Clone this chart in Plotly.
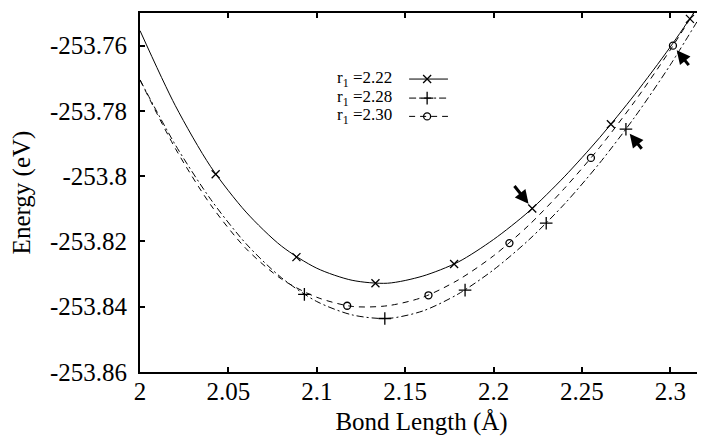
import plotly.graph_objects as go

# ---------------- data ----------------
bond_grid = [2.00, 2.02, 2.04, 2.06, 2.08, 2.10, 2.12, 2.14, 2.16, 2.18,
             2.20, 2.22, 2.24, 2.26, 2.28, 2.30, 2.32]
curve_222 = [-253.7554, -253.7784, -253.7971, -253.8110, -253.8214, -253.8282,
             -253.8319, -253.8328, -253.8306, -253.8263, -253.8194, -253.8108,
             -253.8002, -253.7882, -253.7749, -253.7604, -253.7446]
curve_228 = [-253.7705, -253.7904, -253.8071, -253.8207, -253.8311, -253.8384,
             -253.8425, -253.8436, -253.8413, -253.8361, -253.8287, -253.8195,
             -253.8086, -253.7960, -253.7818, -253.7659, -253.7483]
curve_230 = [-253.7705, -253.7915, -253.8088, -253.8222, -253.8315, -253.8371,
             -253.8399, -253.8397, -253.8371, -253.8318, -253.8244, -253.8150,
             -253.8038, -253.7912, -253.7770, -253.7613, -253.7441]

pts_222_x = [2.0428, 2.0885, 2.1332, 2.1777, 2.2219, 2.2664, 2.3111]
pts_222_y = [-253.7994, -253.8248, -253.8328, -253.8269, -253.8099, -253.7841, -253.7518]
pts_228_x = [2.093, 2.1385, 2.1839, 2.2298, 2.2749]
pts_228_y = [-253.8362, -253.8436, -253.8349, -253.8144, -253.7856]
pts_230_x = [2.1172, 2.1632, 2.2090, 2.2551, 2.3015]
pts_230_y = [-253.8397, -253.8365, -253.8205, -253.7944, -253.7600]

# points marked by arrows (index into each point series)
arrow_222 = 4
arrow_228 = 4
arrow_230 = 4

series_labels = ["r<sub>1</sub> =2.22", "r<sub>1</sub> =2.28", "r<sub>1</sub> =2.30"]

x_tickvals = [2.0, 2.05, 2.1, 2.15, 2.2, 2.25, 2.3]
x_ticktext = ["2", "2.05", "2.1", "2.15", "2.2", "2.25", "2.3"]
y_tickvals = [-253.86, -253.84, -253.82, -253.80, -253.78, -253.76]
y_ticktext = ["-253.86", "-253.84", "-253.82", "-253.8", "-253.78", "-253.76"]

# ---------------- figure ----------------
FONT = "Liberation Serif, Times New Roman, serif"
BLACK = "#000000"
styles = [
    dict(dash="solid", symbol="x-thin-open", size=8),
    dict(dash="7px,3px,2px,3px", symbol="cross-thin-open", size=9),
    dict(dash="6px,5px", symbol="circle-open", size=7),
]
curves = [curve_222, curve_228, curve_230]
pts = [(pts_222_x, pts_222_y), (pts_228_x, pts_228_y), (pts_230_x, pts_230_y)]

fig = go.Figure()
for c, (px, py), st in zip(curves, pts, styles):
    fig.add_trace(go.Scatter(
        x=bond_grid, y=c, mode="lines", line=dict(color=BLACK, width=1, dash=st["dash"],
                                                  shape="spline", smoothing=0.8),
        showlegend=False, hoverinfo="skip"))
    fig.add_trace(go.Scatter(
        x=px, y=py, mode="markers",
        marker=dict(symbol=st["symbol"], size=st["size"], color=BLACK,
                    line=dict(color=BLACK, width=1.3)),
        showlegend=False, cliponaxis=False))

# legend key samples drawn on a hidden overlay axis (0..1 of plot area)
key_rows = [0.816, 0.763, 0.712]
key_x0, key_x1, key_xm = 0.478, 0.547, 0.510
for row, st, lab in zip(key_rows, styles, series_labels):
    fig.add_trace(go.Scatter(
        x=[key_x0, key_x1], y=[row, row], mode="lines",
        line=dict(color=BLACK, width=1, dash=st["dash"]),
        xaxis="x2", yaxis="y2", showlegend=False, hoverinfo="skip"))
    fig.add_trace(go.Scatter(
        x=[key_xm], y=[row], mode="markers",
        marker=dict(symbol=st["symbol"], size=st["size"], color=BLACK,
                    line=dict(color=BLACK, width=1.3)),
        xaxis="x2", yaxis="y2", showlegend=False, hoverinfo="skip"))
    fig.add_annotation(xref="paper", yref="paper", x=0.451, y=row,
                       xanchor="right", yanchor="middle", text=lab,
                       showarrow=False, font=dict(family=FONT, size=17, color=BLACK))

# arrows
for (px, py), idx, (axo, ayo) in zip(pts, [arrow_222, arrow_228, arrow_230],
                                     [(-19, -24), (17, 21), (17, 21)]):
    fig.add_annotation(x=px[idx], y=py[idx], xref="x", yref="y", text="",
                       showarrow=True, ax=axo, ay=ayo, arrowhead=2, arrowsize=0.9,
                       arrowwidth=3, arrowcolor=BLACK, standoff=6)

axis_common = dict(showline=True, linewidth=2, linecolor=BLACK, mirror="ticks",
                   ticks="inside", ticklen=5, tickwidth=1.5, tickcolor=BLACK,
                   showgrid=False, zeroline=False,
                   tickfont=dict(family=FONT, size=25, color=BLACK))

# the page body has an 8px margin; the figure is sized so the plot area
# lands where the reference puts it (x 140..705, y 13..372)
fig.update_layout(
    width=697, height=440,
    margin=dict(l=132, r=0, t=5, b=76),
    paper_bgcolor="white", plot_bgcolor="white",
    font=dict(family=FONT, color=BLACK),
    xaxis=dict(range=[2.0, 2.3185], tickmode="array", tickvals=x_tickvals,
               ticktext=x_ticktext, ticklabelstandoff=-4,
               title=dict(text="Bond Length (Å)", font=dict(family=FONT, size=25, color=BLACK),
                          standoff=8),
               **axis_common),
    yaxis=dict(range=[-253.86, -253.75], tickmode="array", tickvals=y_tickvals,
               ticktext=y_ticktext, ticklabelstandoff=6,
               title=dict(text="Energy (eV)", font=dict(family=FONT, size=25, color=BLACK),
                          standoff=12),
               **axis_common),
    xaxis2=dict(overlaying="x", range=[0, 1], visible=False),
    yaxis2=dict(overlaying="y", range=[0, 1], visible=False),
)

fig.write_html("out.html")
